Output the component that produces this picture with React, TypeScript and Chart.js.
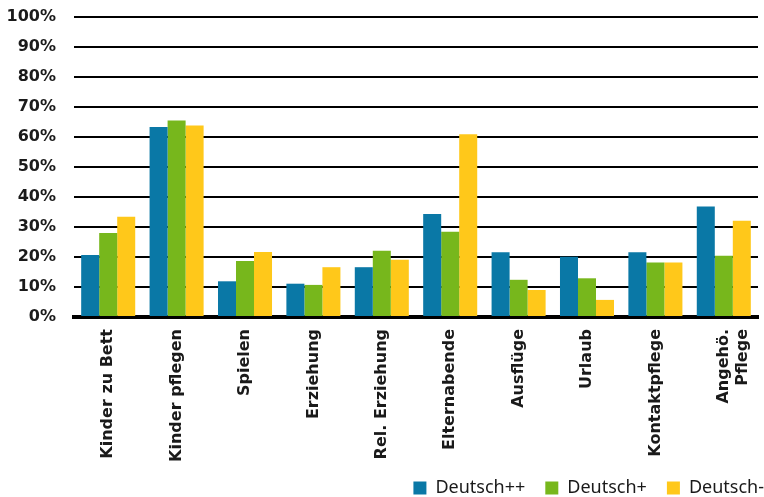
import React, { useEffect, useRef } from "react";
import { Chart, registerables } from "chart.js";

Chart.register(...registerables);

const categories: (string | string[])[] = [
  "Kinder zu Bett",
  "Kinder pflegen",
  "Spielen",
  "Erziehung",
  "Rel. Erziehung",
  "Elternabende",
  "Ausflüge",
  "Urlaub",
  "Kontaktpflege",
  ["Angehö.", "Pflege"],
];

const deutschPlusPlus = [20.7, 63.3, 11.9, 11.1, 16.6, 34.3, 21.6, 20.1, 21.6, 36.8];
const deutschPlus = [28.0, 65.5, 18.7, 10.7, 22.1, 28.4, 12.4, 12.9, 18.2, 20.4];
const deutschMinus = [33.4, 63.8, 21.7, 16.6, 19.1, 60.9, 9.0, 5.7, 18.2, 32.1];

const seriesNames = ["Deutsch++", "Deutsch+", "Deutsch-"];
const seriesColors = ["#0A78A6", "#77B71C", "#FFC81A"];

const yMin = 0;
const yMax = 100;
const yStep = 10;

const legendShift = {
  id: "legendShift",
  afterLayout(chart: any) {
    const l = chart.legend;
    if (!l) return;
    l.left += 26;
    l.right += 26;
    l.top -= 8;
    l.bottom -= 8;
  },
};

export default function App() {
  const ref = useRef<HTMLCanvasElement | null>(null);

  useEffect(() => {
    if (!ref.current) return;
    const chart = new Chart(ref.current, {
      type: "bar",
      data: {
        labels: categories,
        datasets: [deutschPlusPlus, deutschPlus, deutschMinus].map((d, i) => ({
          label: seriesNames[i],
          data: d,
          backgroundColor: seriesColors[i],
          borderWidth: 0,
          barPercentage: 1,
          categoryPercentage: 0.79,
        })),
      },
      options: {
        animation: false,
        responsive: false,
        layout: { padding: { top: 17, right: 6, left: 0, bottom: -18 } },
        plugins: {
          legend: {
            position: "bottom",
            align: "end",
            labels: {
              boxWidth: 13,
              boxHeight: 13,
              padding: 20,
              color: "#1a1a1a",
              font: { family: "'Noto Sans'", size: 18 },
            },
          },
          tooltip: { enabled: false },
        },
        scales: {
          x: {
            grid: { display: false, drawTicks: false },
            border: { display: true, color: "#000", width: 4 },
            ticks: {
              minRotation: 90,
              maxRotation: 90,
              autoSkip: false,
              padding: 12,
              color: "#1a1a1a",
              font: { family: "'DejaVu Sans'", size: 16, weight: "bold" },
            },
            afterFit: (s: any) => {
              s.height = 150;
              s.paddingLeft = 0;
              s.paddingRight = 0;
            },
          },
          y: {
            min: yMin,
            max: yMax,
            grid: { color: "#000", lineWidth: 2, drawTicks: false },
            border: { display: false },
            ticks: {
              stepSize: yStep,
              padding: 18,
              color: "#1a1a1a",
              font: { family: "'DejaVu Sans'", size: 16, weight: "bold" },
              callback: (v: any) => v + "%",
            },
            afterFit: (s: any) => {
              s.width = 74;
              s.paddingTop = 0;
              s.paddingBottom = 0;
            },
          },
        },
      },
      plugins: [legendShift],
    });
    return () => chart.destroy();
  }, []);

  return (
    <div style={{ position: "absolute", left: 0, top: 0, width: 764, height: 497, background: "#fff" }}>
      <canvas ref={ref} width={764} height={497} />
    </div>
  );
}
